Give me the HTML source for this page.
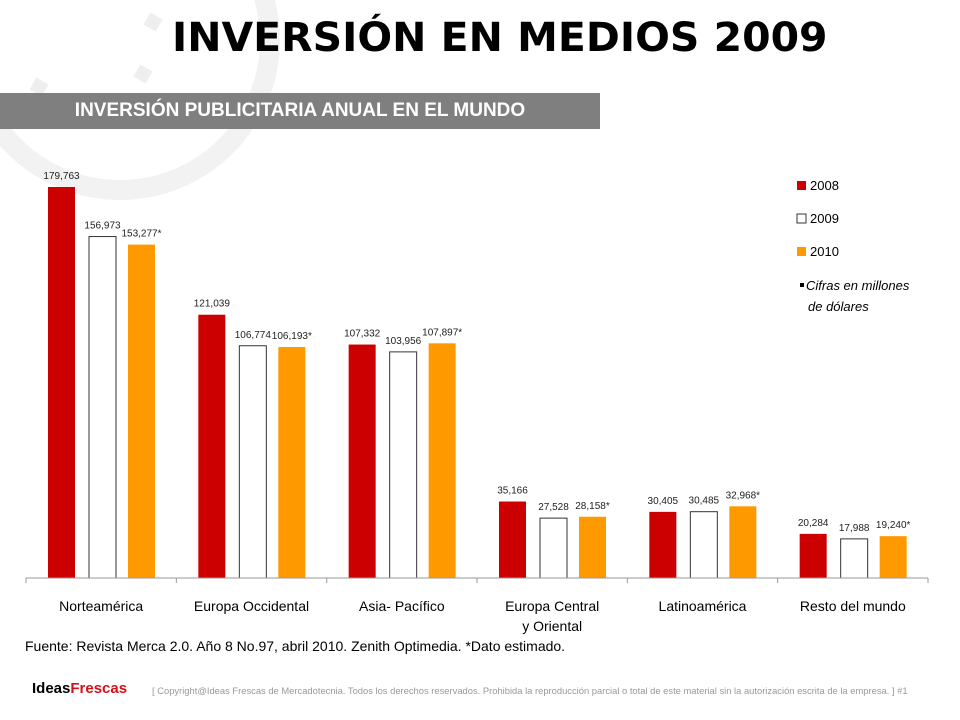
<!DOCTYPE html>
<html><head><meta charset="utf-8"><style>
body{margin:0;width:960px;height:720px;background:#fff;overflow:hidden;font-family:"Liberation Sans","DejaVu Sans",sans-serif;position:relative}
.abs{position:absolute}
</style></head><body>
<svg class="abs" style="left:0;top:0" width="960" height="720">
<circle cx="120" cy="40" r="150" fill="none" stroke="#f2f2f2" stroke-width="20"/>
<rect x="146" y="15" width="14" height="14" fill="#eeeeee" transform="rotate(30 153 22)"/>
<rect x="136" y="67" width="14" height="14" fill="#eeeeee" transform="rotate(30 143 74)"/>
<rect x="32" y="80" width="14" height="14" fill="#eeeeee" transform="rotate(30 39 87)"/>
</svg>
<div id="title" class="abs" style="left:172px;top:16px;font-family:'DejaVu Sans','Liberation Sans',sans-serif;font-weight:900;font-size:40px;line-height:44px;color:#000;white-space:nowrap;transform-origin:left top">INVERSIÓN EN MEDIOS 2009</div>
<div class="abs" style="left:0;top:93px;width:600px;height:36px;background:#7f7f7f;color:#fff;font-weight:bold;font-size:19px;line-height:36px;text-align:center">INVERSIÓN PUBLICITARIA ANUAL EN EL MUNDO</div>
<svg id="chart" class="abs" style="left:0;top:0" width="960" height="720"></svg>
<div class="abs" style="left:25px;top:638px;font-size:14px;color:#000">Fuente: Revista Merca 2.0. Año 8 No.97, abril 2010. Zenith Optimedia. *Dato estimado.</div>
<div class="abs" style="left:32px;top:680px;font-weight:900;font-size:15px;color:#000">Ideas<span style="color:#d4111a">Frescas</span></div>
<div class="abs" style="left:152px;top:685px;font-size:9.4px;color:#999;white-space:nowrap">[ Copyright@Ideas Frescas de Mercadotecnia. Todos los derechos reservados. Prohibida la reproducción parcial o total de este material sin la autorización escrita de la empresa. ]  #1</div>
<script>
const tEl=document.getElementById('title');
tEl.style.transform='scale('+(656/tEl.offsetWidth)+',1)';
const categories=["Norteamérica","Europa Occidental","Asia- Pacífico","Europa Central|y Oriental","Latinoamérica","Resto del mundo"];
const s2008=[179763,121039,107332,35166,30405,20284];
const s2009=[156973,106774,103956,27528,30485,17988];
const s2010=[153277,106193,107897,28158,32968,19240];
const star2010=[true,true,true,true,true,true];
const seriesNames=["2008","2009","2010"];
const NS="http://www.w3.org/2000/svg";
const svg=document.getElementById('chart');
const x0=26,x1=928,base=578,pxPer=391/179763;
const gw=(x1-x0)/categories.length;
const y=v=>base-v*pxPer;
const fills=["#cc0000","#ffffff","#ff9900"];
const offs=[22,63,102],bw=27;
function el(t,a){const e=document.createElementNS(NS,t);for(const k in a)e.setAttribute(k,a[k]);svg.appendChild(e);return e;}
const fmt=v=>v.toLocaleString('en-US');
const all=[s2008,s2009,s2010];
categories.forEach((c,i)=>{
 all.forEach((s,j)=>{
  const bx=x0+i*gw+offs[j];
  const r=el('rect',{x:bx,y:y(s[i]),width:bw,height:s[i]*pxPer,fill:fills[j],stroke:j==1?'#333':'none','stroke-width':1});
  
  
  const t=el('text',{x:bx+bw/2,y:y(s[i])-8,'text-anchor':'middle','font-size':10,fill:'#222','font-family':'Liberation Sans, sans-serif'});
  t.textContent=fmt(s[i])+(j==2&&star2010[i]?'*':'');
  
  
 });
 const parts=c.split('|');
 parts.forEach((p,k)=>{
  const t=el('text',{x:x0+i*gw+gw/2,y:611+k*20,'text-anchor':'middle','font-size':14,fill:'#000','font-family':'Liberation Sans, sans-serif'});
  t.textContent=p;
  
  
 });
});
const ax=el('line',{x1:x0,y1:base,x2:x1,y2:base,stroke:'#999','stroke-width':1});


for(let i=0;i<=categories.length;i++){
 const tk=el('line',{x1:x0+i*gw,y1:base,x2:x0+i*gw,y2:base+5,stroke:'#999'});
 
 
}
seriesNames.forEach((n,j)=>{
 const ly=186+j*33;
 const r=el('rect',{x:797,y:ly-5,width:9,height:9,fill:fills[j],stroke:j==1?'#333':'none'});
 
 
 const t=el('text',{x:810,y:ly+4,'font-size':13,fill:'#000','font-family':'Liberation Sans, sans-serif'});
 t.textContent=n;
 
 
});
const b=el('rect',{x:800,y:283,width:4,height:4,fill:'#000'});


[["Cifras en millones",290,806],["de dólares",311,808]].forEach(a=>{
 const t=el('text',{x:a[2],y:a[1],'font-size':13,'font-style':'italic',fill:'#000','font-family':'Liberation Sans, sans-serif'});
 t.textContent=a[0];
 
 
});
</script>
</body></html>
